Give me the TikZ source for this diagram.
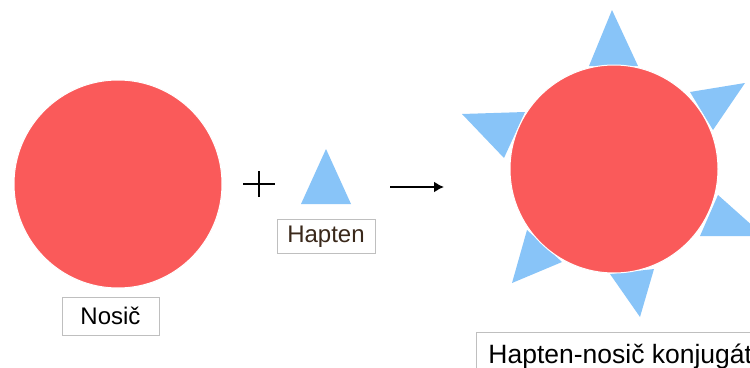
\documentclass[tikz,border=0pt]{standalone}
\usepackage{fontspec}
\setmainfont{Liberation Sans}
\usetikzlibrary{arrows.meta}
\definecolor{nosicred}{RGB}{250,90,90}
\definecolor{haptenblue}{RGB}{136,196,248}
\definecolor{haptenbrown}{RGB}{58,40,26}

\begin{document}
\begin{tikzpicture}[x=1pt,y=-1pt,
    c/.style={circle,fill=nosicred,draw=white,line width=1pt,minimum size=208pt,inner sep=0pt},
    lbl/.style={draw=black!25,line width=0.8pt,font=\fontsize{24}{28}\selectfont,inner sep=0pt,text height=17pt,text depth=0pt},
    h/.style={fill=haptenblue}]
    \useasboundingbox (0,0) rectangle (750,367);
    \fill[white] (0,0) rectangle (750,367);
    \clip (0,0) rectangle (750,367);
    \node[c] (nosic) at (118,184) {};
    \node[lbl,minimum width=97pt,minimum height=38pt] (nosiclbl) at (110.5,316) {Nosič};
    \coordinate (plus) at (259,184);
    \draw[line width=1.4pt] ([xshift=-16pt]plus) -- ([xshift=16pt]plus)
        ([yshift=-13pt]plus) -- ([yshift=13pt]plus);
    \fill[h] (326,149) -- (301,204) -- (351,204) -- cycle;
    \node[lbl,minimum width=98pt,minimum height=34pt,text=haptenbrown] (haptenlbl) at (326,236) {\raisebox{2pt}{Hapten}};
    \coordinate (a0) at (390,187);
    \coordinate (a1) at (444,187);
    \draw[line width=1.8pt,-{Latex[length=10pt,width=11pt]}] (a0) -- (a1);
    \fill[h] (612,10) -- (589,66) -- (638,66) -- cycle;
    \fill[h] (745,83) -- (690,92) -- (713,130) -- cycle;
    \fill[h] (718,195) -- (700,236) -- (764,236) -- cycle;
    \fill[h] (654,269) -- (610,274) -- (640,317) -- cycle;
    \fill[h] (527,230) -- (562,262) -- (512,283) -- cycle;
    \fill[h] (462,114) -- (525,112) -- (504,158) -- cycle;
    \node[c] (konj) at (614,169) {};
    \node[lbl,anchor=west,inner xsep=12pt,minimum height=44pt,font=\fontsize{26.5}{30}\selectfont,text height=19pt] (konjlbl) at (476,354) {Hapten-nosič konjugát};
\end{tikzpicture}
\end{document}
